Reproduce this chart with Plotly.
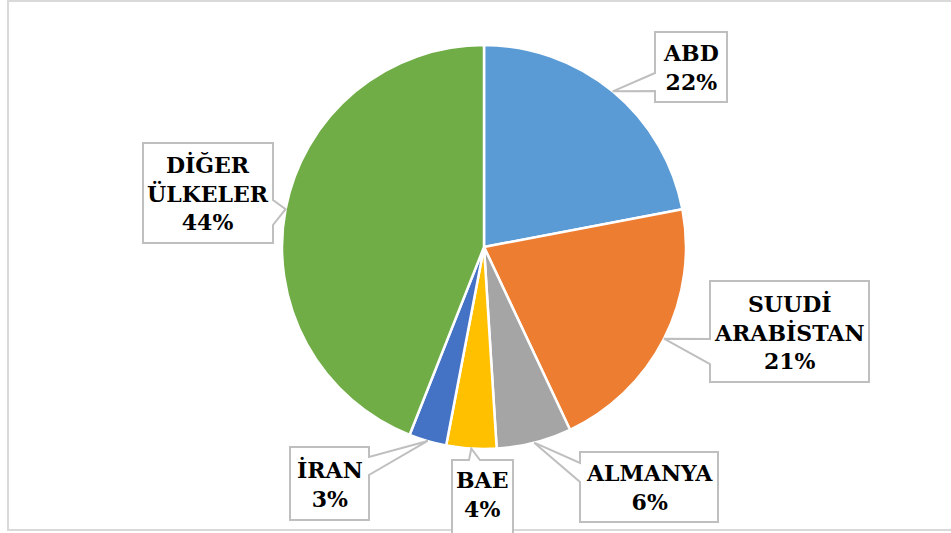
import math
import plotly.graph_objects as go

# ---- data ----
countries = ["ABD", "SUUDİ ARABİSTAN", "ALMANYA", "BAE", "İRAN", "DİĞER ÜLKELER"]
label_lines = ["ABD", "SUUDİ<br>ARABİSTAN", "ALMANYA", "BAE", "İRAN", "DİĞER<br>ÜLKELER"]
shares = [22, 21, 6, 4, 3, 44]
colors = ["#5B9BD5", "#ED7D31", "#A5A5A5", "#FFC000", "#4472C4", "#70AD47"]

# ---- layout (pixels) ----
W, H = 951, 533
CX, CY, R = 484, 247, 202
# callout boxes: (x0, y0, x1, y1), side of the tail, tail attach start/end along that side
boxes = [
    ((655, 32, 727, 102), "left", 73, 91),
    ((710, 281, 869, 382), "left", 339, 364),
    ((580, 452, 718, 522), "left", 463, 482),
    ((452, 460, 513, 545), "top", 469, 480),
    ((290, 447, 369, 520), "right", 457, 475),
    ((143, 143, 273, 243), "right", 200, 225),
]

def px(x):
    return x / W

def py(y):
    return 1 - y / H

total = sum(shares)
fig = go.Figure(go.Pie(
    labels=countries, values=shares, sort=False, direction="clockwise", rotation=0,
    marker=dict(colors=colors, line=dict(color="white", width=2.5)),
    textinfo="none", hoverinfo="label+percent", showlegend=False,
    domain=dict(x=[px(CX - R), px(CX + R)], y=[py(CY + R), py(CY - R)]),
))

shapes = []
annotations = []
cum = 0
for i, v in enumerate(shares):
    mid = (cum + v / 2) / total * 2 * math.pi
    cum += v
    tx = CX + R * math.sin(mid)
    ty = CY - R * math.cos(mid)
    (x0, y0, x1, y1), side, a0, a1 = boxes[i]
    if side == "left":
        pts = [(x0, y0), (x1, y0), (x1, y1), (x0, y1), (x0, a1), (tx, ty), (x0, a0)]
    elif side == "right":
        pts = [(x0, y0), (x1, y0), (x1, a0), (tx, ty), (x1, a1), (x1, y1), (x0, y1)]
    else:  # top
        pts = [(x0, y0), (a0, y0), (tx, ty), (a1, y0), (x1, y0), (x1, y1), (x0, y1)]
    path = "M " + " L ".join(f"{px(x):.5f},{py(y):.5f}" for x, y in pts) + " Z"
    shapes.append(dict(type="path", xref="paper", yref="paper", path=path,
                       fillcolor="white", line=dict(color="#BFBFBF", width=2), layer="above"))
    pct = round(v / total * 100)
    cyb = (y0 + min(y1, 528)) / 2
    annotations.append(dict(
        x=px((x0 + x1) / 2), y=py(cyb), xref="paper", yref="paper",
        text=f"{label_lines[i]}<br>{pct}%",
        showarrow=False, xanchor="center", yanchor="middle", align="center",
        font=dict(family="DejaVu Serif", size=22, color="#000000", weight=700),
    ))

# outer chart frame
shapes.append(dict(type="rect", xref="paper", yref="paper",
                   x0=px(8), y0=py(530), x1=px(960), y1=py(1),
                   line=dict(color="#D9D9D9", width=2), layer="below"))

fig.update_layout(
    width=W, height=H, margin=dict(l=0, r=0, t=0, b=0),
    paper_bgcolor="white", plot_bgcolor="white",
    shapes=shapes, annotations=annotations,
)
fig.write_html("out.html", config={"displayModeBar": False},
               post_script="document.body.style.margin='0';document.body.style.overflow='hidden';")
